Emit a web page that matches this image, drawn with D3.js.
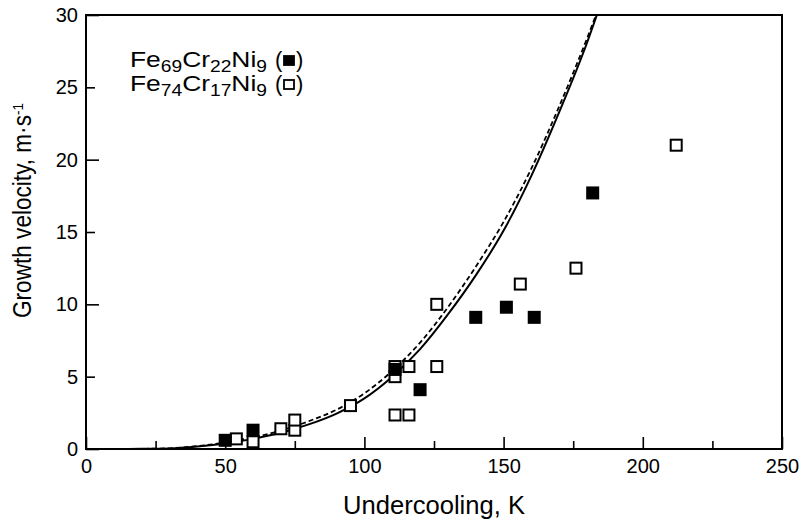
<!DOCTYPE html>
<html>
<head>
<meta charset="utf-8">
<script src="https://cdn.jsdelivr.net/npm/d3@7"></script>
<style>
  body { margin: 0; background: #fff; }
  svg { display: block; font-family: "Liberation Sans", Arial, sans-serif; }
</style>
</head>
<body>
<svg width="800" height="525"></svg>
<script>
// measured points, Fe69Cr22Ni9 (filled) and Fe74Cr17Ni9 (open)
const filledK = [50, 60, 111, 120, 140, 151, 161, 182];
const filledV = [0.6, 1.3, 5.5, 4.1, 9.1, 9.8, 9.1, 17.7];
const openK = [54, 60, 70, 75, 75, 95, 111, 111, 111, 116, 116, 126, 126, 156, 176, 212];
const openV = [0.7, 0.5, 1.4, 1.3, 2.0, 3.0, 5.7, 5.0, 2.35, 5.7, 2.35, 10.0, 5.7, 11.4, 12.5, 21.0];

// model curves
const solidK = [15, 20, 30, 40, 50, 60, 70, 80, 90, 100, 110, 120, 130, 140, 150, 160, 170, 180, 183.5];
const solidV = [0, 0.01, 0.04, 0.17, 0.38, 0.7, 1.12, 1.7, 2.45, 3.5, 5.0, 6.9, 9.3, 12.0, 15.1, 18.9, 23.3, 28.1, 30];
const dashK = [15, 20, 30, 40, 50, 60, 70, 80, 90, 100, 110, 120, 130, 140, 150, 160, 170, 180, 183.2];
const dashV = [0, 0.01, 0.05, 0.2, 0.45, 0.8, 1.28, 1.92, 2.72, 3.85, 5.4, 7.35, 9.8, 12.6, 15.7, 19.4, 23.7, 28.4, 30];

const xTicks = [0, 50, 100, 150, 200, 250];
const xMinor = [25, 75, 125, 175, 225];
const yTicks = [0, 5, 10, 15, 20, 25, 30];

const margin = { top: 15, right: 18, bottom: 76, left: 86 };
const width = 800 - margin.left - margin.right;
const height = 525 - margin.top - margin.bottom;

const svg = d3.select("svg");
const g = svg.append("g")
    .attr("transform", "translate(" + margin.left + "," + margin.top + ")");

const x = d3.scaleLinear().domain([0, 250]).range([0, width]);
const y = d3.scaleLinear().domain([0, 30]).range([height, 0]);

// x axis, ticks pointing inward
g.append("g")
    .attr("transform", "translate(0," + height + ")")
    .call(d3.axisBottom(x).tickValues(xTicks).tickSize(-12).tickSizeOuter(0).tickPadding(10));
g.append("g")
    .attr("transform", "translate(0," + height + ")")
    .call(d3.axisBottom(x).tickValues(xMinor).tickSize(-8).tickSizeOuter(0).tickFormat(""));

const yAxis = g.append("g")
    .call(d3.axisLeft(y).tickValues(yTicks).tickSize(-12).tickSizeOuter(0).tickPadding(8));
yAxis.selectAll(".tick line").attr("x2", d => d % 10 === 0 ? 13 : 9);

g.selectAll(".domain").remove();
g.selectAll(".tick line").attr("stroke", "#000").attr("stroke-width", 1.6);
g.selectAll(".tick text")
    .attr("fill", "#000")
    .style("font-size", "20px");

// frame
g.append("rect")
    .attr("width", width).attr("height", height)
    .attr("fill", "none").attr("stroke", "#000").attr("stroke-width", 2);

// curves
const line = d3.line().curve(d3.curveMonotoneX);
g.append("path")
    .attr("d", line(solidK.map((k, i) => [x(k), y(solidV[i])])))
    .attr("fill", "none").attr("stroke", "#000").attr("stroke-width", 2);
g.append("path")
    .attr("d", line(dashK.map((k, i) => [x(k), y(dashV[i])])))
    .attr("fill", "none").attr("stroke", "#000").attr("stroke-width", 1.8)
    .attr("stroke-dasharray", "5,3");

// markers
const s = 11;
g.selectAll(".open")
    .data(openK.map((k, i) => [k, openV[i]]))
    .enter().append("rect")
    .attr("class", "open")
    .attr("x", d => x(d[0]) - s / 2).attr("y", d => y(d[1]) - s / 2)
    .attr("width", s).attr("height", s)
    .attr("fill", "#fff").attr("stroke", "#000").attr("stroke-width", 2);
g.selectAll(".filled")
    .data(filledK.map((k, i) => [k, filledV[i]]))
    .enter().append("rect")
    .attr("class", "filled")
    .attr("x", d => x(d[0]) - s / 2).attr("y", d => y(d[1]) - s / 2)
    .attr("width", s).attr("height", s)
    .attr("fill", "#000").attr("stroke", "#000").attr("stroke-width", 2);

// legend
const legend = [
    { parts: [["Fe", 0], ["69", 1], ["Cr", 0], ["22", 1], ["Ni", 0], ["9", 1]], fill: "#000" },
    { parts: [["Fe", 0], ["74", 1], ["Cr", 0], ["17", 1], ["Ni", 0], ["9", 1]], fill: "#fff" }
];
legend.forEach((l, i) => {
    const by = 67 + i * 24;
    const t = svg.append("text")
        .attr("x", 130).attr("y", by)
        .attr("textLength", 137).attr("lengthAdjust", "spacingAndGlyphs")
        .style("font-size", "22px");
    l.parts.forEach(p => {
        t.append("tspan")
            .style("font-size", p[1] ? "16px" : "22px")
            .attr("baseline-shift", p[1] ? "-5" : null)
            .text(p[0]);
    });
    svg.append("text").attr("x", 275).attr("y", by).style("font-size", "22px").text("(");
    svg.append("rect")
        .attr("x", 284).attr("y", by - 11).attr("width", 10).attr("height", 9)
        .attr("fill", l.fill).attr("stroke", "#000").attr("stroke-width", 1.8);
    svg.append("text").attr("x", 296).attr("y", by).style("font-size", "22px").text(")");
});

// axis titles
svg.append("text")
    .attr("x", margin.left + width / 2).attr("y", 514)
    .attr("text-anchor", "middle")
    .attr("textLength", 182).attr("lengthAdjust", "spacingAndGlyphs")
    .style("font-size", "25px")
    .text("Undercooling, K");

const yt = svg.append("text")
    .attr("transform", "translate(31,318) rotate(-90)")
    .attr("textLength", 215).attr("lengthAdjust", "spacingAndGlyphs")
    .style("font-size", "25px");
yt.append("tspan").text("Growth velocity, m\u00b7s");
yt.append("tspan").attr("baseline-shift", "super").style("font-size", "15px").text("-1");
</script>
</body>
</html>
